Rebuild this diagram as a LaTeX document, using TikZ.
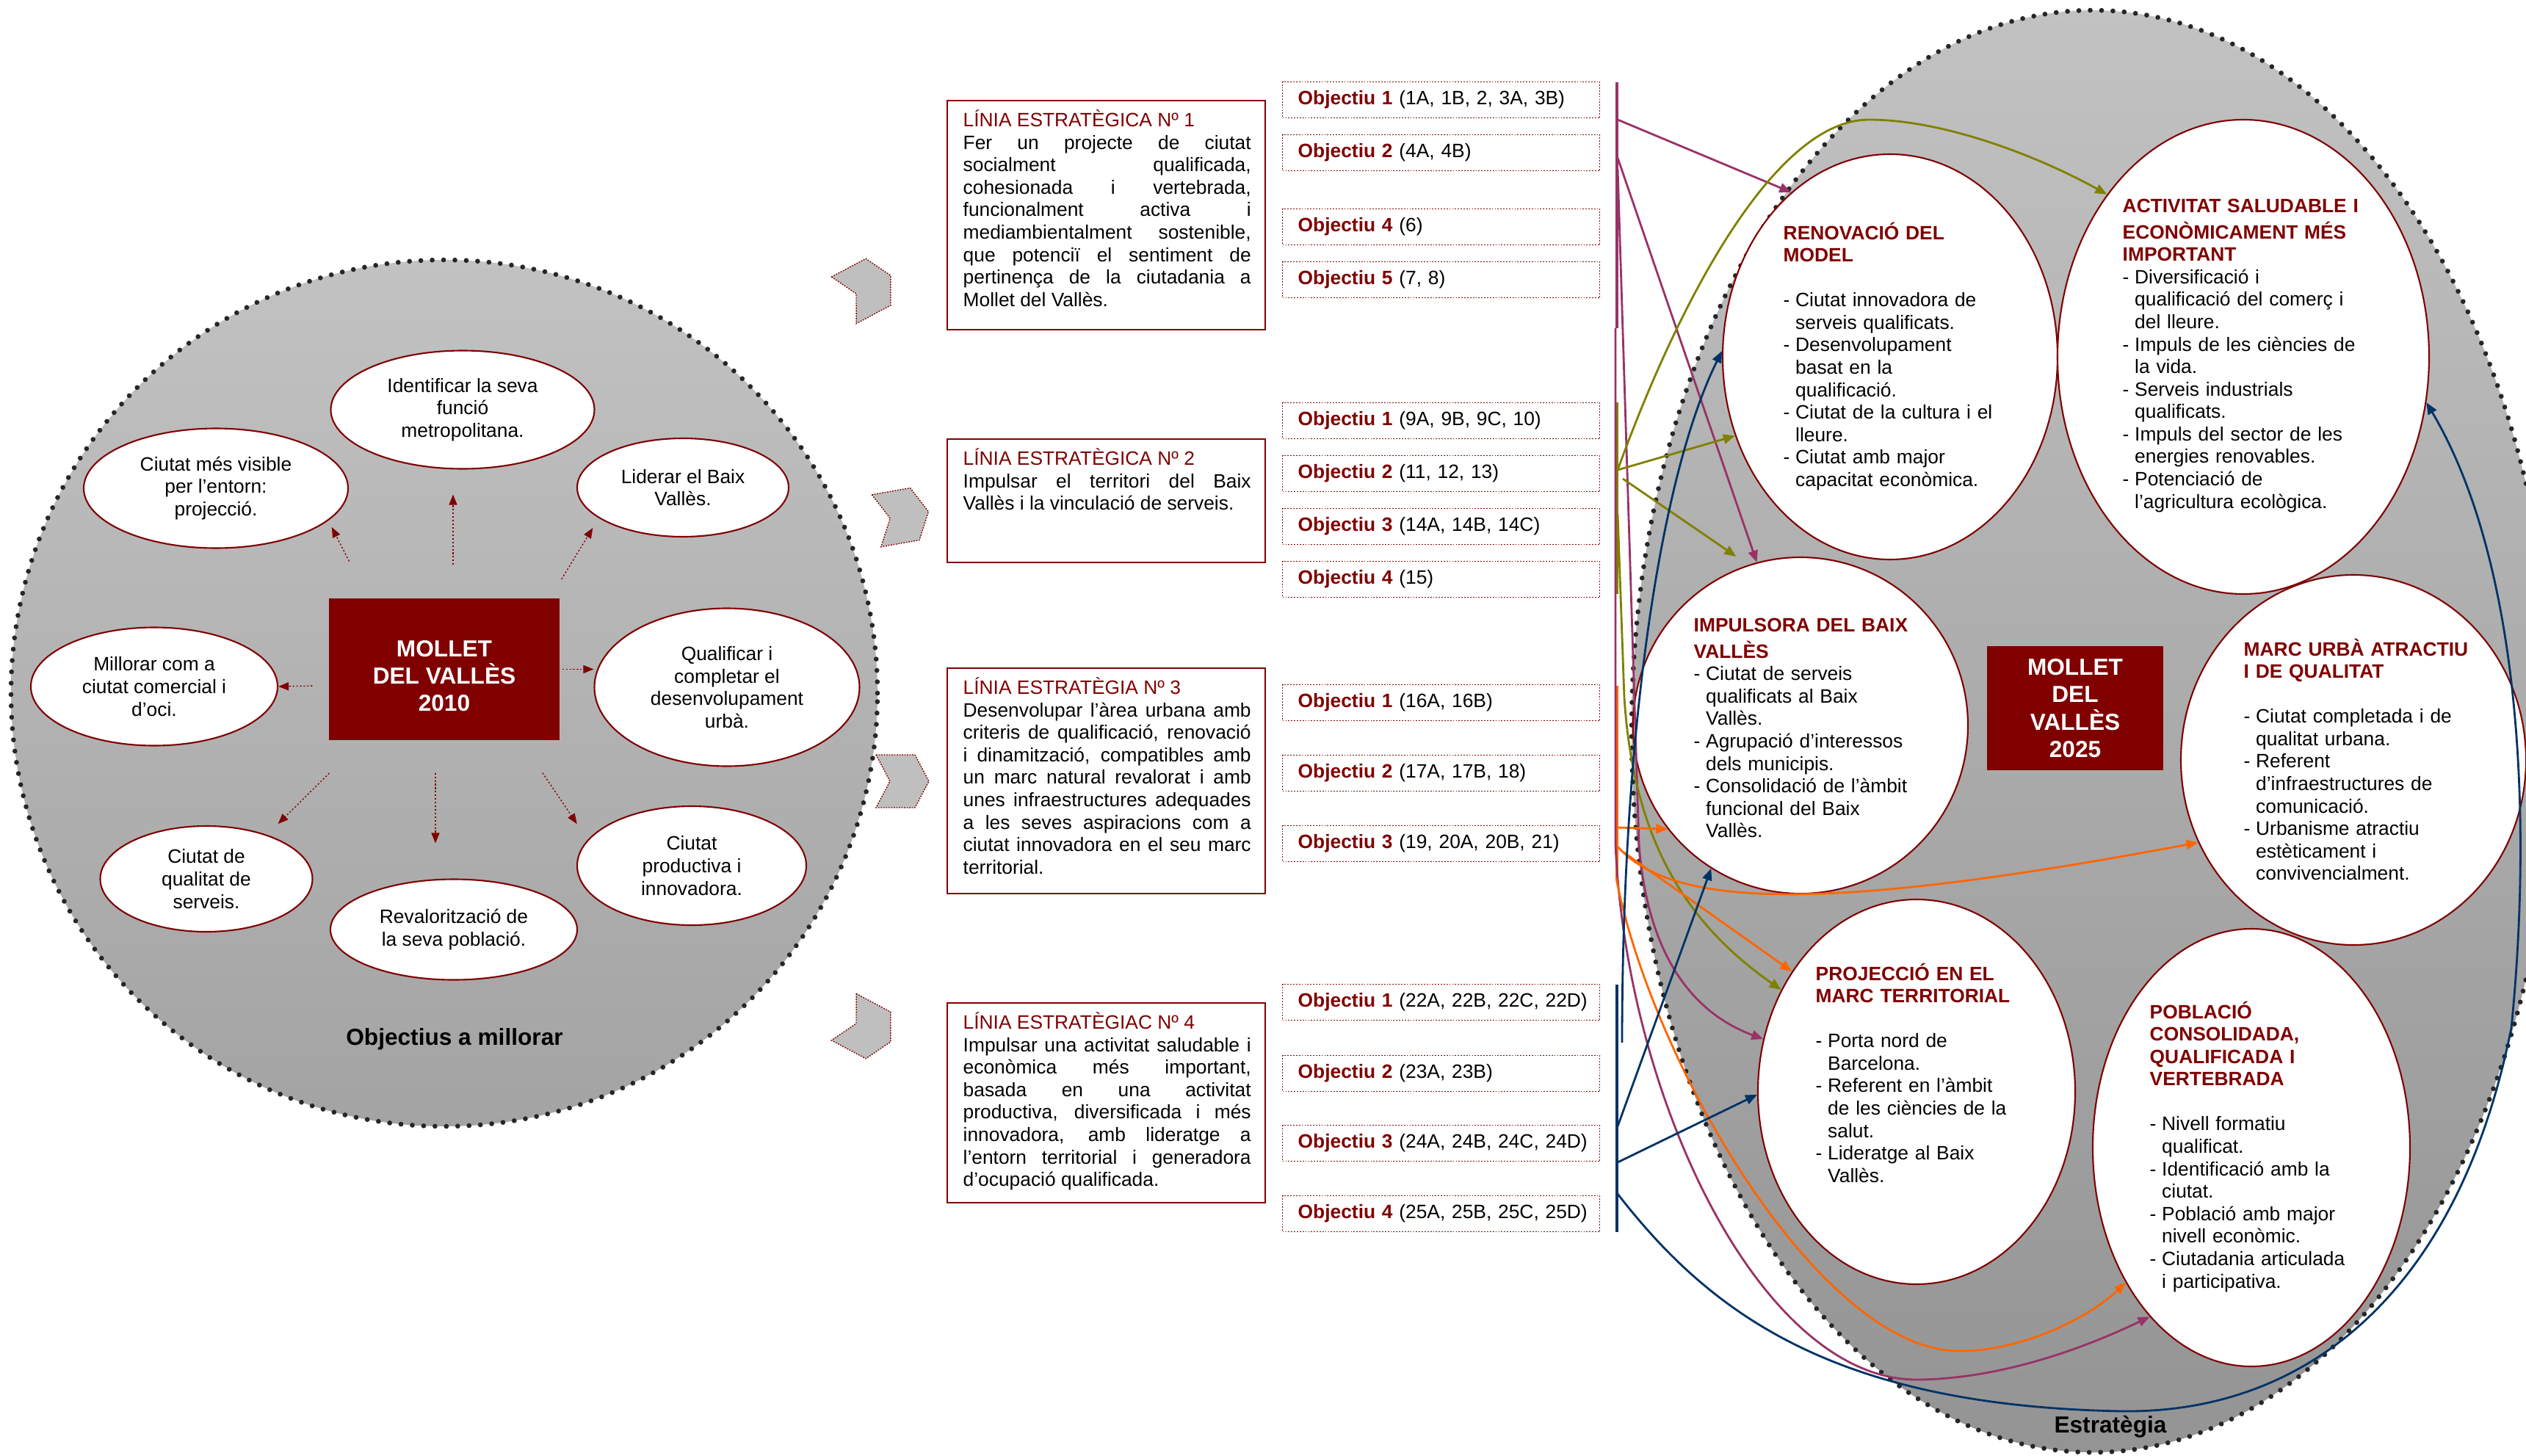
\documentclass[tikz,border=0pt]{standalone}
\usepackage{fontspec}
\setmainfont{Liberation Sans}
\usetikzlibrary{arrows.meta,shapes.geometric,calc}
\definecolor{darkred}{HTML}{800000}
\definecolor{linmaroon}{HTML}{993366}
\definecolor{linolive}{HTML}{808000}
\definecolor{linorange}{HTML}{FF6600}
\definecolor{linnavy}{HTML}{003366}
\newcommand{\hd}[1]{\textcolor{darkred}{\textbf{#1}}}
\newcommand{\dsh}{\makebox[1.65mm][l]{-}}
\newcommand{\dind}{\hspace*{1.65mm}}
\hbadness=10000
\hfuzz=20pt
\begin{document}
\begin{tikzpicture}[
  txt/.style={font=\fontsize{7.5}{8.7}\selectfont},
  bigtxt/.style={font=\fontsize{9}{10.6}\selectfont\bfseries},
  goal/.style={ellipse, draw=darkred, line width=0.6pt, fill=white, inner sep=0pt, align=center, txt},
  city/.style={rectangle, fill=darkred, text=white, align=center, bigtxt, inner sep=0pt},
  arr/.style={darkred, line width=0.4pt, dash pattern=on 0.6pt off 0.8pt, -{Triangle[length=1.4mm,width=1.1mm]}},
  dots/.style={black!85, line width=1.9pt, dash pattern=on 0pt off 4.4pt, line cap=round},
  chev/.style={fill=black!25, draw=darkred, line width=0.4pt, dash pattern=on 0.5pt off 0.5pt},
  linbox/.style={rectangle, draw=darkred, line width=0.7pt, inner sep=0pt, anchor=north west, minimum width=4.33cm},
  lintext/.style={txt, text width=3.92cm, align=justify, inner sep=0pt, anchor=north west},
  obj/.style={rectangle, draw=darkred, line width=0.4pt, dash pattern=on 0.5pt off 0.6pt, txt, text width=3.9cm, align=left, inner xsep=0.21cm, inner ysep=0pt, minimum height=0.49cm},
  bar/.style={line width=1.4pt},
  con/.style={line width=0.8pt, -{Triangle[length=1.6mm,width=1.3mm]}},
  etext/.style={txt, text width=4.6cm, align=left, inner sep=0pt, anchor=north west}
]
\useasboundingbox (0,0) rectangle (34.40,-19.83);

\shade[top color=black!24, bottom color=black!36] (6.05,-9.44) circle (5.90cm);
\draw[dots] (6.05,-9.44) circle (5.90cm);
\node[city, minimum width=3.14cm, minimum height=1.93cm] (mol10) at (6.05,-9.115) {\rule{0pt}{0.40cm}MOLLET\\DEL VALLÈS\\2010};
\node[goal, minimum width=3.59cm, minimum height=1.61cm] (idf) at (6.30,-5.58) {Identificar la seva\\funció\\metropolitana.};
\node[goal, minimum width=3.60cm, minimum height=1.63cm] (vis) at (2.94,-6.65) {Ciutat més visible\\per l’entorn:\\projecció.};
\node[goal, minimum width=2.88cm, minimum height=1.34cm] (lid) at (9.30,-6.64) {Liderar el Baix\\Vallès.};
\node[goal, minimum width=3.36cm, minimum height=1.61cm] (mil) at (2.10,-9.35) {Millorar com a\\ciutat comercial i\\d’oci.};
\node[goal, minimum width=3.61cm, minimum height=2.15cm] (qua) at (9.90,-9.36) {Qualificar i\\completar el\\desenvolupament\\urbà.};
\node[goal, minimum width=2.89cm, minimum height=1.44cm] (ser) at (2.81,-11.97) {Ciutat de\\qualitat de\\serveis.};
\node[goal, minimum width=3.36cm, minimum height=1.37cm] (rev) at (6.18,-12.66) {Revalorització de\\la seva població.};
\node[goal, minimum width=3.12cm, minimum height=1.62cm] (pro) at (9.42,-11.79) {Ciutat\\productiva i\\innovadora.};
\node[bigtxt] (obm) at (6.19,-14.15) {Objectius a millorar};

\draw[arr, shorten <=0.45cm, shorten >=0.34cm] ([xshift=1.2mm]mol10.north) -- ([xshift=1.2mm]mol10.north |- idf.south);
\draw[arr, shorten <=0.56cm, shorten >=0.10cm] (mol10.137.5) -- (vis.-16);
\draw[arr, shorten <=0.30cm, shorten >=0.155cm] (mol10.34) -- (lid.200);
\draw[arr, shorten <=0.22cm] (mol10.188) -- (mil.east);
\draw[arr, shorten <=0.03cm] (mol10.east) -- (mol10.east -| qua.west);
\draw[arr, shorten <=0.63cm, shorten >=0.21cm] (mol10.221) -- (ser.36);
\draw[arr, shorten <=0.44cm, shorten >=0.48cm] ([xshift=-1.2mm]mol10.south) -- ([xshift=-1.2mm]mol10.south |- rev.north);
\draw[arr, shorten <=0.53cm, shorten >=0.26cm] (mol10.-43) -- (pro.166);

\foreach \cx/\cy/\ang in {11.81/-3.92/28, 12.29/-7.03/10, 12.29/-10.64/0, 11.81/-14.02/-28}
  \draw[chev, shift={(\cx,\cy)}, rotate=\ang] (-0.36,0.36) -- (0.17,0.36) -- (0.36,0) -- (0.17,-0.36) -- (-0.36,-0.36) -- (-0.17,0) -- cycle;

\node[linbox, minimum height=3.12cm] (lin1) at (12.89,-1.36) {};
\node[lintext] (lin1t) at (13.11,-1.49) {\strut\textcolor{darkred}{LÍNIA ESTRATÈGICA Nº 1}\\Fer un projecte de ciutat\linebreak socialment qualificada,\linebreak cohesionada i vertebrada,\linebreak funcionalment activa i\linebreak mediambientalment sostenible,\linebreak que potenciï el sentiment de\linebreak pertinença de la ciutadania a\linebreak Mollet del Vallès.};
\node[linbox, minimum height=1.68cm] (lin2) at (12.89,-5.97) {};
\node[lintext] (lin2t) at (13.11,-6.10) {\strut\textcolor{darkred}{LÍNIA ESTRATÈGICA Nº 2}\\Impulsar el territori del Baix\linebreak Vallès i la vinculació de serveis.};
\node[linbox, minimum height=3.07cm] (lin3) at (12.89,-9.09) {};
\node[lintext] (lin3t) at (13.11,-9.22) {\strut\textcolor{darkred}{LÍNIA ESTRATÈGIA Nº 3}\\Desenvolupar l’àrea urbana amb\linebreak criteris de qualificació, renovació\linebreak i dinamització, compatibles amb\linebreak un marc natural revalorat i amb\linebreak unes infraestructures adequades\linebreak a les seves aspiracions com a\linebreak ciutat innovadora en el seu marc\linebreak territorial.};
\node[linbox, minimum height=2.72cm] (lin4) at (12.89,-13.65) {};
\node[lintext] (lin4t) at (13.11,-13.78) {\strut\textcolor{darkred}{LÍNIA ESTRATÈGIAC Nº 4}\\Impulsar una activitat saludable i\linebreak econòmica més important,\linebreak basada en una activitat\linebreak productiva, diversificada i més\linebreak innovadora, amb lideratge a\linebreak l’entorn territorial i generadora\linebreak d’ocupació qualificada.};

\foreach \nm/\yy/\num/\refs in {o11/1.36/1/{(1A, 1B, 2, 3A, 3B)}, o12/2.08/2/{(4A, 4B)}, o14/3.09/4/{(6)}, o15/3.81/5/{(7, 8)},
    o21/5.73/1/{(9A, 9B, 9C, 10)}, o22/6.45/2/{(11, 12, 13)}, o23/7.17/3/{(14A, 14B, 14C)}, o24/7.89/4/{(15)},
    o31/9.57/1/{(16A, 16B)}, o32/10.53/2/{(17A, 17B, 18)}, o33/11.49/3/{(19, 20A, 20B, 21)},
    o41/13.65/1/{(22A, 22B, 22C, 22D)}, o42/14.62/2/{(23A, 23B)}, o43/15.57/3/{(24A, 24B, 24C, 24D)}, o44/16.53/4/{(25A, 25B, 25C, 25D)}}
  \node[obj, anchor=west] (\nm) at (17.46,-\yy) {\mbox{\hd{Objectiu \num} \refs}};

\shade[top color=black!24, bottom color=black!42] (28.50,-9.96) ellipse (6.28cm and 9.82cm);
\draw[dots] (28.50,-9.96) ellipse (6.28cm and 9.82cm);
\node[goal, minimum width=4.56cm, minimum height=5.52cm] (renov) at (25.74,-4.86) {};
\node[goal, minimum width=5.06cm, minimum height=6.46cm] (activ) at (30.55,-4.86) {};
\node[goal, minimum width=4.56cm, minimum height=4.58cm] (impul) at (24.52,-9.88) {};
\node[goal, minimum width=4.70cm, minimum height=5.04cm] (marc) at (32.05,-10.35) {};
\node[goal, minimum width=4.32cm, minimum height=5.24cm] (proj) at (26.10,-14.87) {};
\node[goal, minimum width=4.32cm, minimum height=5.96cm] (pobl) at (30.66,-15.63) {};
\node[city, minimum width=2.40cm, minimum height=1.69cm] (mol25) at (28.26,-9.645) {MOLLET\\DEL\\VALLÈS\\2025};
\node[bigtxt] (estr) at (28.74,-19.43) {Estratègia};

\node[etext] (renovt) at (24.28,-3.02) {\strut\hd{RENOVACIÓ DEL}\\\hd{MODEL}\\[8.7pt]
  \dsh Ciutat innovadora de\\\dind serveis qualificats.\\
  \dsh Desenvolupament\\\dind basat en la\\\dind qualificació.\\
  \dsh Ciutat de la cultura i el\\\dind lleure.\\
  \dsh Ciutat amb major\\\dind capacitat econòmica.};
\node[etext] (activt) at (28.90,-2.67) {\strut\hd{ACTIVITAT SALUDABLE I}\\\hd{ECONÒMICAMENT MÉS}\\\hd{IMPORTANT}\\
  \dsh Diversificació i\\\dind qualificació del comerç i\\\dind del lleure.\\
  \dsh Impuls de les ciències de\\\dind la vida.\\
  \dsh Serveis industrials\\\dind qualificats.\\
  \dsh Impuls del sector de les\\\dind energies renovables.\\
  \dsh Potenciació de\\\dind l’agricultura ecològica.};
\node[etext] (impult) at (23.06,-8.38) {\strut\hd{IMPULSORA DEL BAIX}\\\hd{VALLÈS}\\
  \dsh Ciutat de serveis\\\dind qualificats al Baix\\\dind Vallès.\\
  \dsh Agrupació d’interessos\\\dind dels municipis.\\
  \dsh Consolidació de l’àmbit\\\dind funcional del Baix\\\dind Vallès.};
\node[etext] (marct) at (30.55,-8.69) {\strut\hd{MARC URBÀ ATRACTIU}\\\hd{I DE QUALITAT}\\[8.7pt]
  \dsh Ciutat completada i de\\\dind qualitat urbana.\\
  \dsh Referent\\\dind d’infraestructures de\\\dind comunicació.\\
  \dsh Urbanisme atractiu\\\dind estèticament i\\\dind convivencialment.};
\node[etext] (projt) at (24.72,-13.11) {\strut\hd{PROJECCIÓ EN EL}\\\hd{MARC TERRITORIAL}\\[8.7pt]
  \dsh Porta nord de\\\dind Barcelona.\\
  \dsh Referent en l’àmbit\\\dind de les ciències de la\\\dind salut.\\
  \dsh Lideratge al Baix\\\dind Vallès.};
\node[etext] (poblt) at (29.27,-13.63) {\strut\hd{POBLACIÓ}\\\hd{CONSOLIDADA,}\\\hd{QUALIFICADA I}\\\hd{VERTEBRADA}\\[8.7pt]
  \dsh Nivell formatiu\\\dind qualificat.\\
  \dsh Identificació amb la\\\dind ciutat.\\
  \dsh Població amb major\\\dind nivell econòmic.\\
  \dsh Ciutadania articulada\\\dind i participativa.};

\draw[bar, linmaroon] (22.02,-1.12) -- (22.02,-4.47);
\draw[bar, linolive] (22.02,-5.48) -- (22.02,-8.09);
\draw[bar, linorange] (22.02,-9.34) -- (22.02,-11.96);
\draw[bar, linnavy] (22.02,-13.41) -- (22.02,-16.78);

\coordinate (m1) at (22.03,-1.63);
\coordinate (m2) at (22.03,-2.15);
\coordinate (mA) at (22.03,-2.30);
\coordinate (mB) at (22.00,-4.47);
\coordinate (v1) at (22.03,-6.40);
\coordinate (v3) at (22.10,-6.52);
\coordinate (v4) at (22.03,-7.00);
\coordinate (r1) at (22.03,-11.27);
\coordinate (r2) at (22.03,-11.53);
\coordinate (r3) at (22.10,-11.60);
\coordinate (r4) at (22.01,-11.96);
\coordinate (n1) at (22.09,-14.20);
\coordinate (n2) at (22.03,-15.34);
\coordinate (n3) at (22.03,-15.83);
\coordinate (n4) at (22.03,-16.26);

\draw[con, linmaroon] (m1) -- (renov.121);
\draw[con, linmaroon] (m2) -- (impul.105);
\draw[con, linmaroon] (mA) -- (22.32,-11.50) .. controls (22.45,-13.20) and (23.20,-13.85) .. (proj.161);
\draw[con, linmaroon] (mB) -- (22.00,-11.50) .. controls (22.15,-15.00) and (24.00,-18.80) .. (26.11,-18.79) .. controls (27.20,-18.78) and (28.30,-18.40) .. (pobl.239);
\draw[con, linolive] (v1) .. controls (22.90,-4.00) and (24.20,-1.63) .. (25.45,-1.63) .. controls (26.50,-1.63) and (27.80,-2.15) .. (activ.130);
\draw[con, linolive] (v1) -- (renov.207);
\draw[con, linolive, shorten >=0.2cm] (v3) -- (impul.108);
\draw[con, linolive] (v4) -- (22.12,-9.50) .. controls (22.25,-11.50) and (23.00,-12.60) .. (proj.143);
\draw[con, linorange] (r1) -- (impul.218);
\draw[con, linorange] (r2) .. controls (22.80,-12.40) and (25.00,-12.40) .. (marc.208);
\draw[con, linorange] (r3) -- (proj.136);
\draw[con, linorange] (r4) .. controls (22.50,-14.50) and (24.80,-18.40) .. (26.68,-18.40) .. controls (27.60,-18.40) and (28.50,-17.90) .. (pobl.227);
\draw[con, linnavy] (n1) .. controls (22.09,-10.00) and (22.60,-6.50) .. (renov.178);
\draw[con, linnavy] (n2) -- (impul.238);
\draw[con, linnavy] (n3) -- (proj.181);
\draw[con, linnavy] (n4) .. controls (23.30,-17.90) and (25.00,-19.15) .. (28.90,-19.22) .. controls (31.50,-19.25) and (33.50,-17.50) .. (34.20,-14.00) .. controls (34.50,-11.00) and (34.30,-7.60) .. (activ.346);
\end{tikzpicture}
\end{document}
